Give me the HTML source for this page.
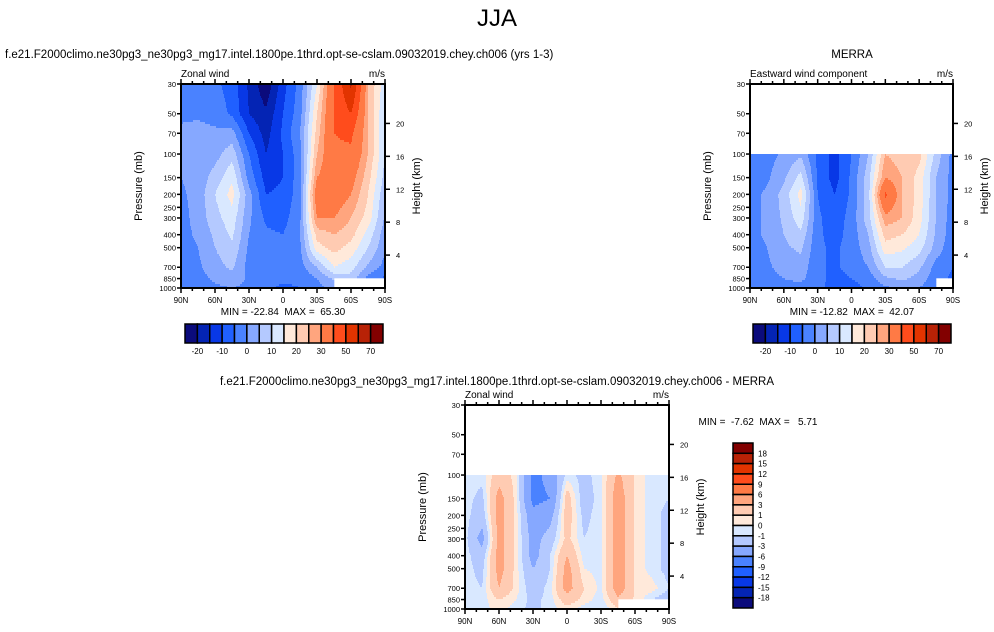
<!DOCTYPE html>
<html><head><meta charset="utf-8">
<style>
body{margin:0;background:#fff;width:994px;height:632px;overflow:hidden;font-family:"Liberation Sans",sans-serif}
svg{display:block}
text{font-family:"Liberation Sans",sans-serif;fill:#000;white-space:pre}
</style></head>
<body>
<svg id="fig" width="994" height="632" viewBox="0 0 994 632" xmlns="http://www.w3.org/2000/svg">
<text x="497" y="26" font-size="24" text-anchor="middle">JJA</text>
<text x="5" y="58" font-size="11.5">f.e21.F2000climo.ne30pg3_ne30pg3_mg17.intel.1800pe.1thrd.opt-se-cslam.09032019.chey.ch006 (yrs 1-3)</text>
<text x="852" y="58" font-size="11.5" text-anchor="middle">MERRA</text>
<text x="497" y="385" font-size="11.5" text-anchor="middle">f.e21.F2000climo.ne30pg3_ne30pg3_mg17.intel.1800pe.1thrd.opt-se-cslam.09032019.chey.ch006 - MERRA</text>
<g id="layer"></g>
</svg>
<script>
// ---- data ----
const lats = [90,75,60,45,30,15,0,-15,-30,-45,-60,-75,-90];
const latLabels = ["90N","60N","30N","0","30S","60S","90S"];
const pLevels = [30,50,70,100,150,200,300,400,500,700,850,1000];
const pTickLabels = [30,50,70,100,150,200,250,300,400,500,700,850,1000];
const heightTicks = [4,8,12,16,20];
const N = NaN;
const modelGrid = [
 [-3,-3,-4,-7,-16,-24,-12,-3,15,40,62,25,12],
 [-1,-1,-2,-6,-15,-19,-10,-2,20,40,50,25,10],
 [1,2,1,2,-10,-17,-9,0,22,40,42,25,10],
 [1,2,3,8,-5,-15,-10,-2,25,38,38,25,10],
 [0,2,7,14,-2,-12,-10,-2,30,35,33,22,8],
 [-1,2,10,17,2,-10,-9,-2,35,35,30,20,6],
 [-2,2,8,13,1,-6,-7,-1,30,30,25,18,4],
 [-2,1,6,11,0,-4,-5,0,22,25,22,13,2],
 [-3,0,5,9,-1,-3,-4,-1,18,22,18,10,1],
 [-3,-1,3,6,-2,-3,-3,-2,5,15,12,4,-2],
 [-3,-2,1,3,-1,-3,-4,-4,0,6,8,-2,-6],
 [-3,-2,-1,0,-1,-4,-6,-5,-2,2,N,N,N]
];
const merraGrid = [
 [N,N,N,N,N,N,N,N,N,N,N,N,N],
 [N,N,N,N,N,N,N,N,N,N,N,N,N],
 [N,N,N,N,N,N,N,N,N,N,N,N,N],
 [-3,-2,1,4,-6,-12,-5,5,25,22,22,8,-2],
 [-3,-1,4,12,-6,-12,-4,8,30,25,18,5,-2],
 [-2,1,7,17,-5,-10,-4,8,42,25,18,5,-2],
 [-2,1,6,13,-4,-8,-3,8,28,25,17,5,-3],
 [-2,1,5,9,-4,-7,-3,5,22,20,15,4,-3],
 [-3,0,4,6,-4,-6,-3,3,18,16,12,3,-4],
 [-3,-1,2,3,-4,-6,-3,0,10,10,6,-2,-5],
 [-3,-2,0,1,-3,-7,-5,-3,4,6,3,-3,-6],
 [-3,-3,-1,-2,-3,-8,-7,-4,-1,1,0,-4,N]
];
const diffGrid = [
 [N,N,N,N,N,N,N,N,N,N,N,N,N],
 [N,N,N,N,N,N,N,N,N,N,N,N,N],
 [N,N,N,N,N,N,N,N,N,N,N,N,N],
 [-0.5,-0.5,2,0.5,-7,-5,-0.5,-1.5,-0.3,3.5,0.8,-0.5,-0.5],
 [-0.5,-1.5,4,0.5,-7,-6,2,-2,-0.3,4.5,0.8,-0.5,-1],
 [-0.5,-2,4,0.5,-5,-4,2,-1.5,-0.3,4.5,0.8,-0.5,-1.5],
 [-0.5,-4,4,0.5,-4,-2,1.5,-1,-0.3,4.5,0.8,-0.5,-1.5],
 [-0.5,-2,4,0.5,-4,-1,3,-0.5,-0.3,4.5,0.8,-0.5,-1.5],
 [-0.5,-1.5,4,0.5,-3,-1,4,0,-0.3,4.5,0.8,-0.5,-1.5],
 [-0.5,-1,3,0.5,-2,-0.5,4,1,-0.3,4.5,0.8,0.5,-1],
 [-0.5,-0.5,1,0,-1.5,-0.5,2,0.5,-0.5,2.5,0.8,-1,-2],
 [-0.5,-0.5,0.5,-0.5,-1.5,-0.5,0.5,-0.5,-1,1,N,N,-2]
];
const windLevels = [-20,-15,-10,-5,0,5,10,15,20,25,30,40,50,60,70];
const windLabels = ["-20","-10","0","10","20","30","50","70"];
const diffLevels = [-18,-15,-12,-9,-6,-3,-1,0,1,3,6,9,12,15,18];
const diffLabels = ["18","15","12","9","6","3","1","0","-1","-3","-6","-9","-12","-15","-18"];
const palette = ["#0b0b7c","#0424b4","#0838e6","#2060ff","#4a82ff","#86a8ff","#b4c9ff","#d9e8ff","#ffe9da","#ffcbb2","#ffa57e","#ff7a45","#ff4c1c","#e23400","#b82206","#820000"];

const SVGNS="http://www.w3.org/2000/svg";
const layer=document.getElementById('layer');
function mk(tag,attrs,parent){const e=document.createElementNS(SVGNS,tag);for(const k in attrs)e.setAttribute(k,attrs[k]);(parent||layer).appendChild(e);return e;}
function colorIdx(v,levels){let i=0;while(i<levels.length&&v>=levels[i])i++;return i;}

function panel(cfg){
  const {x0,y0,w,h,grid,levels,name,leftText,rightText}=cfg;
  const g=mk('g',{});
  
  
  const lp0=Math.log(30),lp1=Math.log(1000);
  const yOf=p=>y0+(Math.log(p)-lp0)/(lp1-lp0)*h;
  const xOf=lat=>x0+(90-lat)/180*w;
  function val(lat,p){
    const fx=(90-lat)/15; let i=Math.min(Math.floor(fx),lats.length-2); const tx=fx-i;
    const lpv=Math.log(p); let j=0; while(j<pLevels.length-2&&Math.log(pLevels[j+1])<lpv)j++;
    const ty=(lpv-Math.log(pLevels[j]))/(Math.log(pLevels[j+1])-Math.log(pLevels[j]));
    const a=grid[j][i],b=grid[j][i+1],c=grid[j+1][i],d=grid[j+1][i+1];
    if([a,b,c,d].some(isNaN))return NaN;
    return (a*(1-tx)+b*tx)*(1-ty)+(c*(1-tx)+d*tx)*ty;
  }
  const field=mk('g',{},g);
  
  
  const step=2;
  for(let yy=0;yy<h;yy+=step){
    const p=Math.exp(lp0+(yy+step/2)/h*(lp1-lp0));
    let runStart=0,runC=null;
    for(let xx=0;xx<=w;xx++){
      let c=null;
      if(xx<w){const v=val(90-(xx+0.5)/w*180,p); c=isNaN(v)?null:colorIdx(v,levels);}
      else c='end';
      if(c!==runC){
        if(runC!==null&&runC!=='end'){
          const r=mk('rect',{x:x0+runStart,y:y0+yy,width:xx-runStart+0.3,height:step+0.3,fill:palette[runC]},field);
          
          
        }
        runStart=xx;runC=c;
      }
    }
  }
  const fr=mk('rect',{x:x0,y:y0,width:w,height:h,fill:'none',stroke:'#000','stroke-width':2},g);
  
  
  for(let lat=90;lat>=-90;lat-=10){
    const x=xOf(lat),maj=(lat%30===0);
    mk('line',{x1:x,x2:x,y1:y0+h,y2:y0+h+(maj?5:3),stroke:'#000','stroke-width':1.5},g);
    mk('line',{x1:x,x2:x,y1:y0,y2:y0-(maj?5:3),stroke:'#000','stroke-width':1.5},g);
  }
  latLabels.forEach((l,k)=>{
    const t=mk('text',{x:xOf(90-30*k),y:y0+h+15,'font-size':8,'text-anchor':'middle'},g);
    t.textContent=l;
    
    
  });
  pTickLabels.forEach(p=>{
    const y=yOf(p);
    mk('line',{x1:x0-4,x2:x0,y1:y,y2:y,stroke:'#000','stroke-width':1.5},g);
    const t=mk('text',{x:x0-5,y:y+3,'font-size':7.5,'text-anchor':'end'},g);
    t.textContent=p;
    
    
  });
  heightTicks.forEach(km=>{
    const p=1000*Math.exp(-km/7.07);
    const y=yOf(p);
    mk('line',{x1:x0+w,x2:x0+w+5,y1:y,y2:y,stroke:'#000','stroke-width':1.5},g);
    const t=mk('text',{x:x0+w+11,y:y+3,'font-size':7.5},g);
    t.textContent=km;
    
    
  });
  const pl=mk('text',{x:0,y:0,'font-size':11,'text-anchor':'middle',transform:`translate(${x0-39},${y0+h/2}) rotate(-90)`},g);
  pl.textContent='Pressure (mb)';
  
  
  const hl=mk('text',{x:0,y:0,'font-size':11,'text-anchor':'middle',transform:`translate(${x0+w+35},${y0+h/2}) rotate(-90)`},g);
  hl.textContent='Height (km)';
  
  
  const lt=mk('text',{x:x0,y:y0-7,'font-size':10},g);
  lt.textContent=leftText;
  
  
  const rt=mk('text',{x:x0+w,y:y0-7,'font-size':10,'text-anchor':'end'},g);
  rt.textContent=rightText;
  
  
}

function hColorbar(x0,y0,w,h,name){
  const g=mk('g',{});
  
  
  const bw=w/palette.length;
  palette.forEach((c,i)=>{
    const r=mk('rect',{x:x0+i*bw,y:y0,width:bw,height:h,fill:c,stroke:'#000','stroke-width':1.5},g);
    
    
  });
  windLabels.forEach((l,k)=>{
    const t=mk('text',{x:x0+bw*(1+2*k),y:y0+h+11,'font-size':8,'text-anchor':'middle'},g);
    t.textContent=l;
    
    
  });
}
function vColorbar(x0,y0,w,h,name){
  const g=mk('g',{});
  
  
  const bh=h/palette.length;
  palette.slice().reverse().forEach((c,i)=>{
    const r=mk('rect',{x:x0,y:y0+i*bh,width:w,height:bh,fill:c,stroke:'#000','stroke-width':1.5},g);
    
    
  });
  diffLabels.forEach((l,k)=>{
    const t=mk('text',{x:x0+w+5,y:y0+bh*(k+1)+3,'font-size':8},g);
    t.textContent=l;
    
    
  });
}
function label(txt,x,y,anchor,name){
  const t=mk('text',{x:x,y:y,'font-size':10,'text-anchor':anchor});
  t.textContent=txt;
  
  
}

panel({x0:181,y0:84,w:204,h:204,grid:modelGrid,levels:windLevels,name:'model-panel',leftText:'Zonal wind',rightText:'m/s'});
panel({x0:750,y0:84,w:203,h:204,grid:merraGrid,levels:windLevels,name:'merra-panel',leftText:'Eastward wind component',rightText:'m/s'});
panel({x0:465,y0:405,w:204,h:204,grid:diffGrid,levels:diffLevels,name:'diff-panel',leftText:'Zonal wind',rightText:'m/s'});
label('MIN = -22.84  MAX =  65.30',283,315,'middle','model-min-max');
label('MIN = -12.82  MAX =  42.07',852,315,'middle','merra-min-max');
label('MIN =  -7.62  MAX =   5.71',758,425,'middle','diff-min-max');
hColorbar(185,324,198,19,'model-colorbar');
hColorbar(753,324,198,19,'merra-colorbar');
vColorbar(733,443,20,165,'diff-colorbar');
</script>
</body></html>
